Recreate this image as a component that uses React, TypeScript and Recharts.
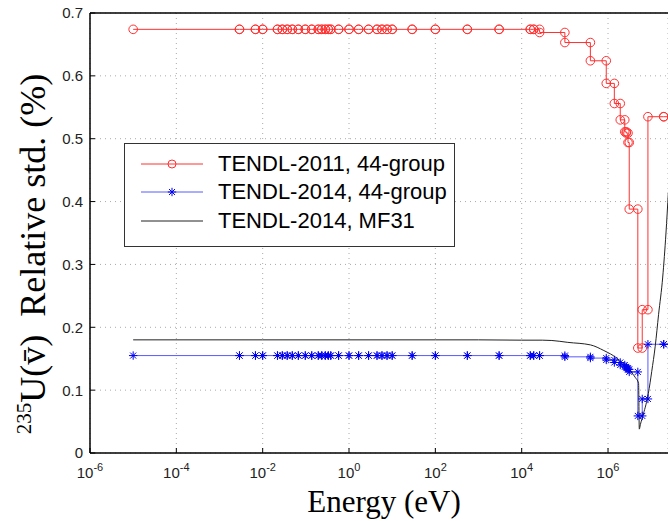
import React from "react";
import {
  LineChart,
  Line,
  XAxis,
  YAxis,
  CartesianGrid,
  ReferenceLine,
  Legend,
} from "recharts";

// 44-group boundaries (eV), last one lies past the right edge
const groupBounds = [
  1e-5, 2.9e-3, 6.8e-3, 1e-2, 2.2e-2, 2.85e-2, 3.7e-2, 4.85e-2, 6.7e-2, 9.7e-2,
  0.137, 0.194, 0.234, 0.282, 0.331, 0.378, 0.574, 1.0, 1.67, 2.84,
  4.45, 5.8, 7.6, 10, 29, 100, 550, 3000, 1.58e4, 1.9e4,
  2.6e4, 1e5, 3.9e5, 9.1e5, 1.4e6, 1.92e6, 2.44e6, 2.65e6, 2.9e6, 3.1e6,
  4.9e6, 6.2e6, 8.4e6, 1.95e7, 3e7,
];

const tendl2011 = [
  0.674, 0.674, 0.674, 0.674, 0.674, 0.674, 0.674, 0.674, 0.674, 0.674,
  0.674, 0.674, 0.674, 0.674, 0.674, 0.674, 0.674, 0.674, 0.674, 0.674,
  0.674, 0.674, 0.674, 0.674, 0.674, 0.674, 0.674, 0.674, 0.674, 0.674,
  0.669, 0.653, 0.624, 0.588, 0.556, 0.530, 0.511, 0.509, 0.494, 0.388,
  0.167, 0.228, 0.535, 0.535,
];

const tendl2014 = [
  0.155, 0.155, 0.155, 0.155, 0.155, 0.155, 0.155, 0.155, 0.155, 0.155,
  0.155, 0.155, 0.155, 0.155, 0.155, 0.155, 0.155, 0.155, 0.155, 0.155,
  0.155, 0.155, 0.155, 0.155, 0.155, 0.155, 0.155, 0.155, 0.155, 0.155,
  0.155, 0.153, 0.151, 0.148, 0.144, 0.140, 0.137, 0.135, 0.133, 0.129,
  0.059, 0.086, 0.173, 0.173,
];

const mf31Energy = [
  1e-5, 1e-2, 1, 100, 1e3, 1e4, 3e4, 5e4, 1.17e5, 3.9e5, 8e5, 1.6e6, 2.75e6,
  4.3e6, 5.1e6, 5.3e6, 5.6e6, 6.6e6, 8.6e6, 1.03e7, 1.24e7, 1.48e7, 1.85e7,
  2.2e7, 2.5e7,
];
const mf31Std = [
  0.18, 0.18, 0.18, 0.18, 0.18, 0.1795, 0.1795, 0.179, 0.176, 0.172, 0.163,
  0.151, 0.136, 0.12, 0.111, 0.038, 0.045, 0.062, 0.095, 0.13, 0.17, 0.22,
  0.28, 0.35, 0.415,
];

const xTicks = [1e-6, 1e-4, 1e-2, 1, 1e2, 1e4, 1e6];
const yTicks = [0, 0.1, 0.2, 0.3, 0.4, 0.5, 0.6, 0.7];
const seriesNames = [
  "TENDL-2011, 44-group",
  "TENDL-2014, 44-group",
  "TENDL-2014, MF31",
];

const RED = "#ff3030";
const BLUE_LINE = "#5a5aff";
const BLUE_MARK = "#0000f0";
const BLACK = "#222";
const SANS = "'Liberation Sans', Arial, sans-serif";
const SERIF = "'Liberation Serif', 'Times New Roman', serif";

// stairs: markers at every corner of the step line
function stairs(bounds: number[], vals: number[]) {
  const pts = [{ e: bounds[0], v: vals[0] }];
  for (let i = 1; i < vals.length; i++) {
    pts.push({ e: bounds[i], v: vals[i - 1] });
    pts.push({ e: bounds[i], v: vals[i] });
  }
  pts.push({ e: bounds[vals.length], v: vals[vals.length - 1] });
  return pts;
}

const redData = stairs(groupBounds, tendl2011);
const blueData = stairs(groupBounds, tendl2014);
const blackData = mf31Energy.map((e, i) => ({ e, v: mf31Std[i] }));

const starPath = (cx: number, cy: number) => {
  const s = 4.2;
  const d = 3;
  return `M${cx - s},${cy}H${cx + s}M${cx},${cy - s}V${cy + s}M${cx - d},${cy - d}L${cx + d},${cy + d}M${cx - d},${cy + d}L${cx + d},${cy - d}`;
};

const StarDot = (props: any) => {
  const { cx, cy, index } = props;
  if (cx == null || cy == null) return <g key={index} />;
  return (
    <path key={index} d={starPath(cx, cy)} stroke={BLUE_MARK} strokeWidth={1} fill="none" />
  );
};

const X_MARGIN = 25;
const XTick = (props: any) => {
  const { x, y, payload } = props;
  const exp = Math.round(Math.log10(payload.value));
  return (
    <g>
      <line x1={x} x2={x} y1={y - X_MARGIN} y2={y - X_MARGIN - 5} stroke="#000" />
      <text x={x} y={y} textAnchor="middle" fontFamily={SANS} fontSize={15} fill="#222">
        <tspan>10</tspan>
        <tspan dy={-7} fontSize={11}>{String(exp)}</tspan>
      </text>
    </g>
  );
};

const Y_MARGIN = 7;
const YTick = (props: any) => {
  const { x, y, payload } = props;
  return (
    <g>
      <line x1={x + Y_MARGIN} x2={x + Y_MARGIN + 5} y1={y} y2={y} stroke="#000" />
      <text x={x} y={y} dy="0.36em" textAnchor="end" fontFamily={SANS} fontSize={15} fill="#222">
        {String(payload.value)}
      </text>
    </g>
  );
};

const XTitle = (props: any) => {
  const vb = props.viewBox;
  return (
    <text x={vb.x + vb.width / 2 + 5} y={vb.y + 59} textAnchor="middle" fontFamily={SERIF} fontSize={31} fill="#000">
      Energy (eV)
    </text>
  );
};

const YTitle = (props: any) => {
  const vb = props.viewBox;
  const cx = vb.x + 45;
  const cy = vb.y + vb.height / 2 + 21;
  return (
    <text transform={`translate(${cx},${cy}) rotate(-90)`} textAnchor="middle" fontFamily={SERIF} fontSize={36} fill="#000">
      <tspan fontSize={21} dy={-14}>235</tspan>
      <tspan dy={14}>{"U(v\u0304)\u00a0 Relative std. (%)"}</tspan>
    </text>
  );
};

const LegendIcon = ({ i }: { i: number }) => (
  <svg width={93} height={28} style={{ display: "block" }}>
    <line x1={16} x2={78} y1={14} y2={14} stroke={[RED, BLUE_LINE, BLACK][i]} strokeWidth={1} />
    {i === 0 && <circle cx={47} cy={14} r={4} stroke={RED} fill="none" />}
    {i === 1 && <path d={starPath(47, 14)} stroke={BLUE_MARK} fill="none" />}
  </svg>
);

const LegendBox = () => (
  <div
    style={{
      width: 331,
      height: 104,
      boxSizing: "border-box",
      border: "1.5px solid #333",
      background: "#fff",
      paddingTop: 6,
    }}
  >
    {seriesNames.map((name, i) => (
      <div key={name} style={{ display: "flex", alignItems: "center", height: 28.3 }}>
        <LegendIcon i={i} />
        <span style={{ fontFamily: SANS, fontSize: 22, color: "#000", whiteSpace: "nowrap", lineHeight: "28px" }}>
          {name}
        </span>
      </div>
    ))}
  </div>
);

export default function App() {
  return (
    <div style={{ position: "absolute", left: 0, top: 0, width: 668, height: 521, background: "#fff" }}>
      <LineChart width={668} height={521} margin={{ top: 13, right: 0, bottom: 0, left: 0 }}>
        <CartesianGrid stroke="#aaa" strokeDasharray="1 4" />
        <XAxis
          dataKey="e"
          type="number"
          scale="log"
          domain={[1e-6, 2.45e7]}
          allowDataOverflow
          ticks={xTicks}
          height={68}
          tickSize={0}
          tickMargin={X_MARGIN}
          tickLine={false}
          tick={<XTick />}
          axisLine={{ stroke: "#000", strokeWidth: 1.5 }}
          label={{ content: <XTitle /> }}
        />
        <YAxis
          type="number"
          domain={[0, 0.7]}
          ticks={yTicks}
          width={90}
          tickSize={0}
          tickMargin={Y_MARGIN}
          tickLine={false}
          tick={<YTick />}
          axisLine={{ stroke: "#000", strokeWidth: 1.5 }}
          label={{ content: <YTitle /> }}
        />
        <ReferenceLine y={0.7} stroke="#000" strokeWidth={1.5} />
        <Line
          data={redData}
          dataKey="v"
          type="linear"
          stroke={RED}
          strokeWidth={1}
          dot={{ r: 4.3, stroke: RED, strokeWidth: 1, fill: "none" }}
          activeDot={false}
          isAnimationActive={false}
        />
        <Line
          data={blueData}
          dataKey="v"
          type="linear"
          stroke={BLUE_LINE}
          strokeWidth={1}
          dot={<StarDot />}
          activeDot={false}
          isAnimationActive={false}
        />
        <Line
          data={blackData}
          dataKey="v"
          type="monotoneX"
          stroke={BLACK}
          strokeWidth={1}
          dot={false}
          activeDot={false}
          isAnimationActive={false}
        />
        <Legend
          layout="vertical"
          align="center"
          verticalAlign="middle"
          content={<LegendBox />}
          wrapperStyle={{ left: 124, top: 143, width: 331, height: 104 }}
        />
      </LineChart>
    </div>
  );
}
